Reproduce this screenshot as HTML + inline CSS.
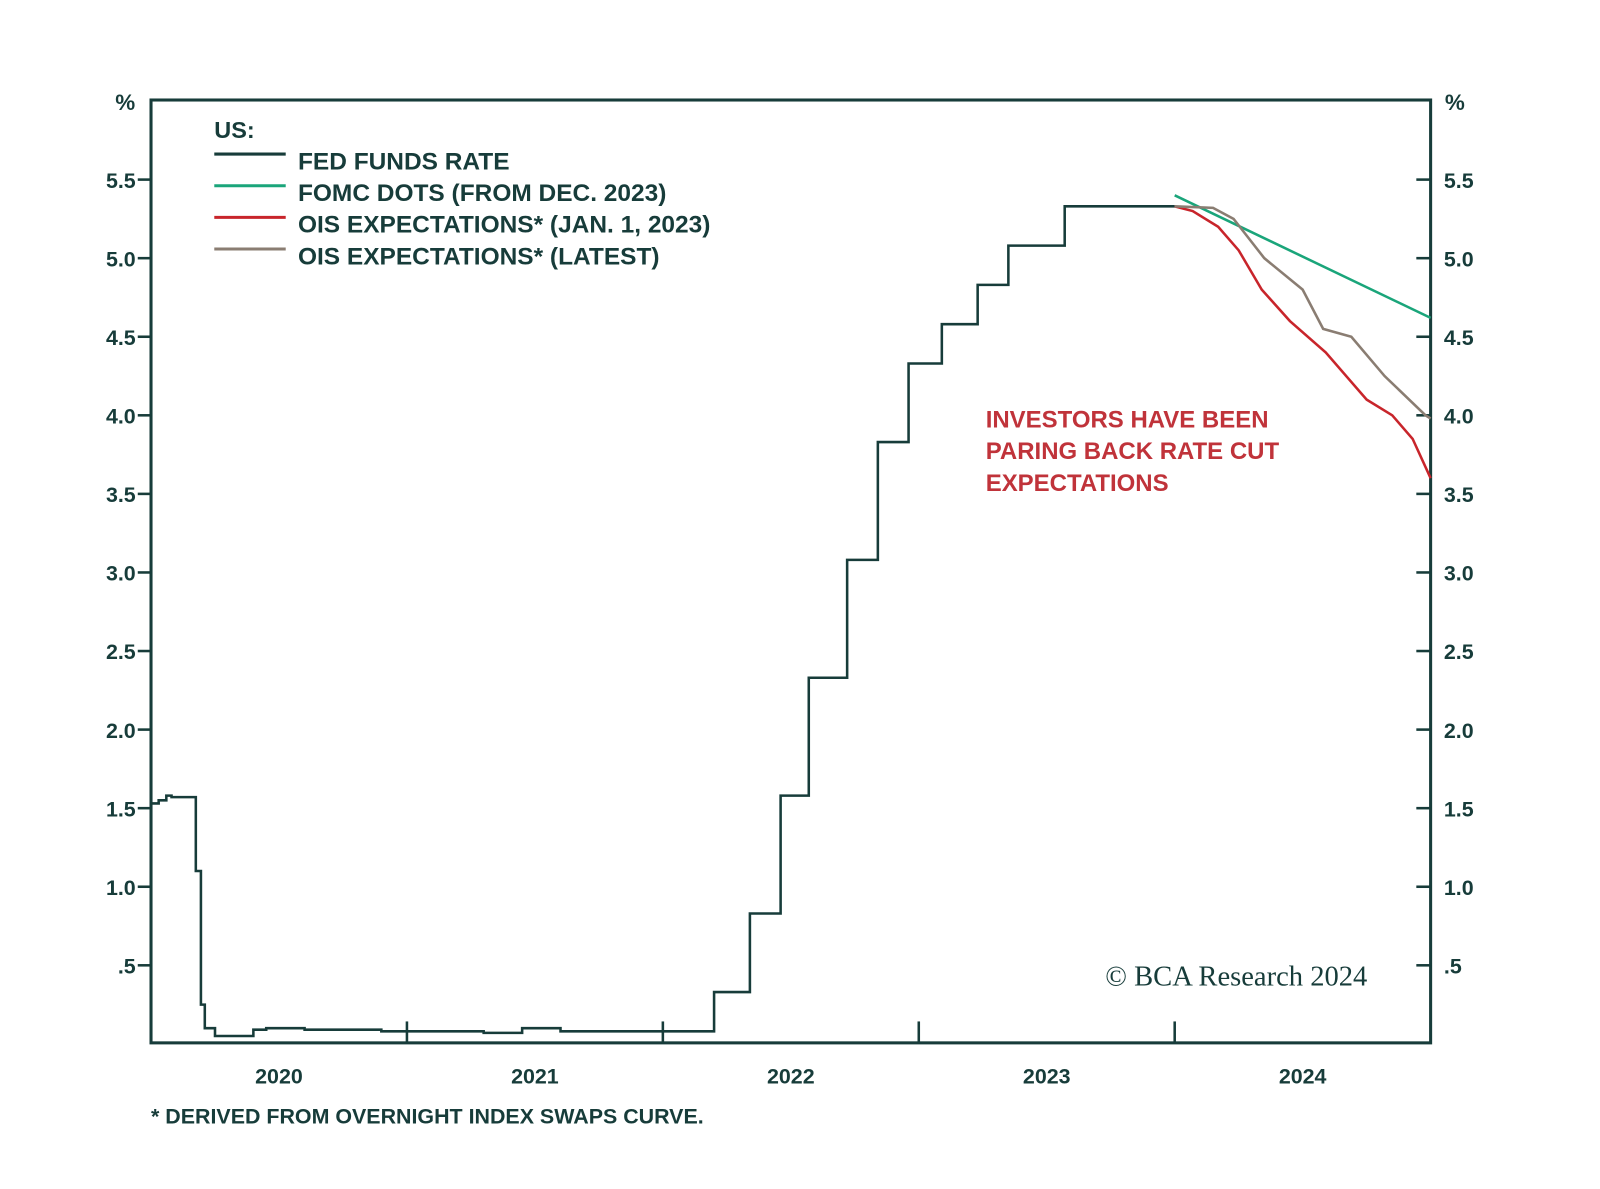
<!DOCTYPE html>
<html><head><meta charset="utf-8"><style>
body{margin:0;background:#fff;}
svg text{font-family:"Liberation Sans",sans-serif;font-weight:bold;fill:#173c3a;}
</style></head><body>
<svg width="1600" height="1184" viewBox="0 0 1568 1160.3">
<g id="chart"></g>
</svg>
<script>
const yTicks=[0.5,1.0,1.5,2.0,2.5,3.0,3.5,4.0,4.5,5.0,5.5];
const yTickLabels=[".5","1.0","1.5","2.0","2.5","3.0","3.5","4.0","4.5","5.0","5.5"];
const xYears=[2020,2021,2022,2023,2024];
const fedDates=[2020.0,2020.03,2020.06,2020.08,2020.175,2020.195,2020.21,2020.25,2020.3,2020.4,2020.45,2020.6,2020.9,2021.0,2021.3,2021.45,2021.6,2021.8,2022.2,2022.34,2022.46,2022.57,2022.72,2022.84,2022.96,2023.09,2023.23,2023.35,2023.57];
const fedValues=[1.53,1.55,1.58,1.57,1.10,0.25,0.10,0.05,0.05,0.09,0.10,0.09,0.08,0.08,0.07,0.10,0.08,0.08,0.33,0.83,1.58,2.33,3.08,3.83,4.33,4.58,4.83,5.08,5.33];
const fedEnd=2024.0;
const dotsDates=[2024.0,2025.0];
const dotsValues=[5.40,4.62];
const oisJanDates=[2024.0,2024.07,2024.17,2024.25,2024.34,2024.45,2024.59,2024.75,2024.85,2024.93,2025.0];
const oisJanValues=[5.33,5.30,5.20,5.05,4.80,4.60,4.40,4.10,4.00,3.85,3.60];
const oisLatDates=[2024.0,2024.15,2024.23,2024.35,2024.5,2024.58,2024.69,2024.82,2024.98,2025.0];
const oisLatValues=[5.33,5.32,5.25,5.00,4.80,4.55,4.50,4.25,4.00,3.98];

const X0=148,X1=1402,Y0=98,Y1=1022;
const xs=d=>X0+(d-2020)*(X1-X0)/5;
const ys=v=>1023-v*154;
const g=document.getElementById('chart');
const NS='http://www.w3.org/2000/svg';
function mk(tag,attrs,parent){const e=document.createElementNS(NS,tag);for(const k in attrs)e.setAttribute(k,attrs[k]);(parent||g).appendChild(e);return e;}
const C='#173c3a';
let fr=mk('rect',{x:X0,y:Y0,width:X1-X0,height:Y1-Y0,fill:'none',stroke:C,'stroke-width':3});


yTicks.forEach((v,i)=>{
 const y=ys(v);
 let t=mk('line',{x1:X0-13,x2:X0,y1:y,y2:y,stroke:C,'stroke-width':2.5});
 
 
 let t2=mk('line',{x1:X1-14,x2:X1,y1:y,y2:y,stroke:C,'stroke-width':2.5});
 
 
 let l=mk('text',{x:133,y:y+8,'text-anchor':'end','font-size':21});l.textContent=yTickLabels[i];
 
 
 let r=mk('text',{x:1415,y:y+8,'font-size':21});r.textContent=yTickLabels[i];
 
 
});
let p1=mk('text',{x:113,y:108,'font-size':22});p1.textContent='%';


let p2=mk('text',{x:1416,y:108,'font-size':22});p2.textContent='%';


xYears.forEach((yr,i)=>{
 if(i>0){let t=mk('line',{x1:xs(yr),x2:xs(yr),y1:Y1,y2:Y1-21,stroke:C,'stroke-width':2.5});
 
 }
 let l=mk('text',{x:xs(yr+0.5),y:1062,'text-anchor':'middle','font-size':21});l.textContent=String(yr);
 
 
});
let d='M'+xs(fedDates[0])+' '+ys(fedValues[0]);
for(let i=1;i<fedDates.length;i++){d+=' H'+xs(fedDates[i]).toFixed(1)+' V'+ys(fedValues[i]).toFixed(1);}
d+=' H'+xs(fedEnd);
let ff=mk('path',{d:d,fill:'none',stroke:C,'stroke-width':2.5});


function line(ds,vs,col,name){
 const pts=ds.map((t,i)=>xs(t).toFixed(1)+','+ys(vs[i]).toFixed(1)).join(' ');
 let e=mk('polyline',{points:pts,fill:'none',stroke:col,'stroke-width':2.5});
 
 
}
line(dotsDates,dotsValues,'#1aa57a','fomc-dots-line');
line(oisJanDates,oisJanValues,'#c8252b','ois-jan-line');
line(oisLatDates,oisLatValues,'#8a7d72','ois-latest-line');
let lu=mk('text',{x:210,y:135,'font-size':23});lu.textContent='US:';


const legNames=['FED FUNDS RATE','FOMC DOTS (FROM DEC. 2023)','OIS EXPECTATIONS* (JAN. 1, 2023)','OIS EXPECTATIONS* (LATEST)'];
const legCols=[C,'#1aa57a','#c8252b','#8a7d72'];
legNames.forEach((n,i)=>{
 const y=151+i*31;
 let s=mk('line',{x1:210,x2:280,y1:y,y2:y,stroke:legCols[i],'stroke-width':3});
 
 
 let t=mk('text',{x:292,y:y+15,'font-size':24});t.textContent=n;
 
 
});
['INVESTORS HAVE BEEN','PARING BACK RATE CUT','EXPECTATIONS'].forEach((s,i)=>{
 let t=mk('text',{x:966,y:419+i*31,'font-size':23.5});t.textContent=s;t.style.fill='#c0333a';
 
 
});
let cp=mk('text',{x:1340,y:966,'text-anchor':'end','font-size':28});cp.textContent='© BCA Research 2024';
cp.style.fontFamily='"Liberation Serif",serif';cp.style.fontWeight='normal';


let fn=mk('text',{x:148,y:1101,'font-size':21});fn.textContent='*  DERIVED FROM OVERNIGHT INDEX SWAPS CURVE.';


</script>
</body></html>
